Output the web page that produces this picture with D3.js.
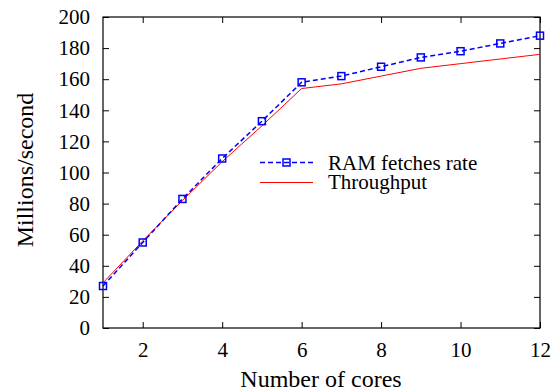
<!DOCTYPE html>
<html>
<head>
<meta charset="utf-8">
<script src="https://cdn.jsdelivr.net/npm/d3@7"></script>
<style>
  body { margin: 0; background: #fff; }
</style>
</head>
<body>
<div id="chart"></div>
<script>
const cores = [1, 2, 3, 4, 5, 6, 7, 8, 9, 10, 11, 12];
const ramFetches = [27, 55, 83, 109, 133, 158, 162, 168, 174, 178, 183, 188];
const throughput = [29, 56, 82, 107, 130, 154, 157, 162, 167, 170, 173, 176];
const xTicks = [2, 4, 6, 8, 10, 12];
const yTicks = [0, 20, 40, 60, 80, 100, 120, 140, 160, 180, 200];

const FONT = "'Liberation Serif', 'Times New Roman', serif";
const W = 554, H = 391;
const margin = { top: 17, right: 14, bottom: 63, left: 103 };
const width = W - margin.left - margin.right;
const height = H - margin.top - margin.bottom;

const svg = d3.select("#chart").append("svg")
  .attr("width", W).attr("height", H);
const g = svg.append("g").attr("transform", `translate(${margin.left},${margin.top})`);

const x = d3.scaleLinear().domain([1, 12]).range([0, width]);
const y = d3.scaleLinear().domain([0, 200]).range([height, 0]);

// inward ticks on all four sides (mirrored)
const tickLen = 6;
function styleAxis(sel) {
  sel.style("font-family", FONT).style("font-size", "21px");
  sel.select(".domain").remove();
  sel.selectAll(".tick line").attr("stroke", "#000").attr("stroke-width", 1);
  sel.selectAll("text").attr("fill", "#000");
}
g.append("g").attr("transform", `translate(0,${height})`)
  .call(d3.axisBottom(x).tickValues(xTicks).tickSizeInner(-tickLen).tickPadding(14))
  .call(styleAxis);
g.append("g")
  .call(d3.axisTop(x).tickValues(xTicks).tickSizeInner(-tickLen).tickFormat(""))
  .call(styleAxis);
g.append("g")
  .call(d3.axisLeft(y).tickValues(yTicks).tickSizeInner(-tickLen).tickPadding(13))
  .call(styleAxis);
g.append("g").attr("transform", `translate(${width},0)`)
  .call(d3.axisRight(y).tickValues(yTicks).tickSizeInner(-tickLen).tickFormat(""))
  .call(styleAxis);

g.append("rect")
  .attr("width", width).attr("height", height)
  .attr("fill", "none").attr("stroke", "#000").attr("stroke-width", 1.2);

const line = d3.line().x(d => x(d[0])).y(d => y(d[1]));

g.append("path")
  .datum(cores.map((c, i) => [c, throughput[i]]))
  .attr("d", line).attr("fill", "none")
  .attr("stroke", "#ff0000").attr("stroke-width", 1);

const ramData = cores.map((c, i) => [c, ramFetches[i]]);
g.append("path")
  .datum(ramData)
  .attr("d", line).attr("fill", "none")
  .attr("stroke", "#0000ff").attr("stroke-width", 1.5)
  .attr("stroke-dasharray", "5,3");

g.selectAll(".ram-pt").data(ramData).enter().append("rect")
  .attr("class", "ram-pt")
  .attr("x", d => x(d[0]) - 3.5).attr("y", d => y(d[1]) - 3.5)
  .attr("width", 7).attr("height", 7)
  .attr("fill", "none").attr("stroke", "#0000ff").attr("stroke-width", 1.5);

// legend
const legend = svg.append("g").style("font-family", FONT).style("font-size", "21px");
legend.append("line").attr("x1", 260).attr("x2", 313).attr("y1", 162.5).attr("y2", 162.5)
  .attr("stroke", "#0000ff").attr("stroke-width", 1.5).attr("stroke-dasharray", "5,3");
legend.append("rect").attr("x", 283).attr("y", 159).attr("width", 7).attr("height", 7)
  .attr("fill", "none").attr("stroke", "#0000ff").attr("stroke-width", 1.5);
legend.append("text").attr("x", 328).attr("y", 170).text("RAM fetches rate");
legend.append("line").attr("x1", 260).attr("x2", 313).attr("y1", 182.5).attr("y2", 182.5)
  .attr("stroke", "#ff0000").attr("stroke-width", 1);
legend.append("text").attr("x", 328).attr("y", 189).text("Throughput");

// axis titles
svg.append("text")
  .attr("x", 321).attr("y", 387)
  .attr("text-anchor", "middle")
  .style("font-family", FONT).style("font-size", "24px")
  .text("Number of cores");
svg.append("text")
  .attr("transform", "translate(33,170) rotate(-90)")
  .attr("text-anchor", "middle")
  .style("font-family", FONT).style("font-size", "24px")
  .text("Millions/second");
</script>
</body>
</html>
